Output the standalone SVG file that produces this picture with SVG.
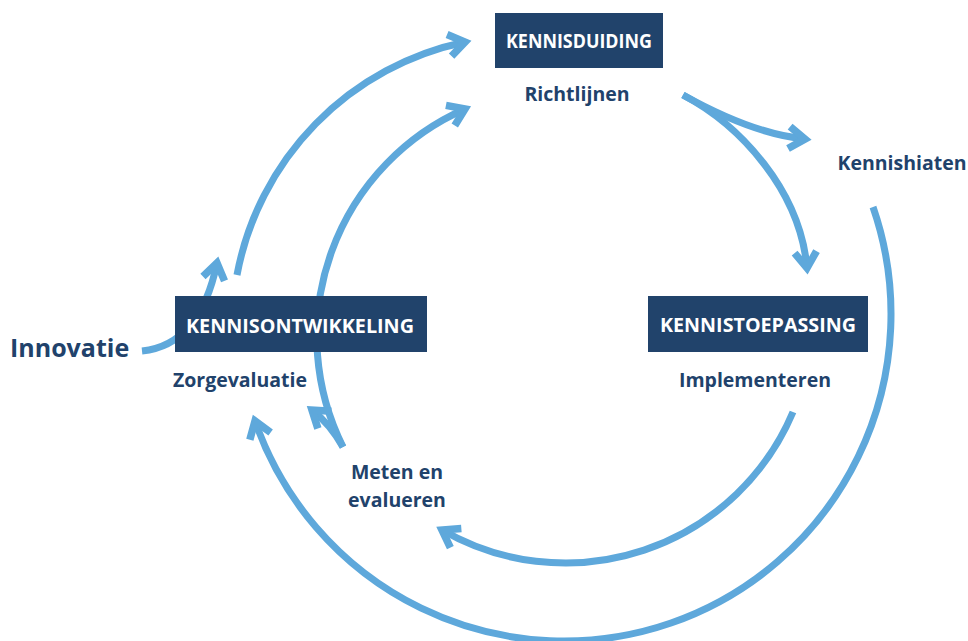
<svg xmlns="http://www.w3.org/2000/svg" width="968" height="641" viewBox="0 0 968 641">
<style>
.c{fill:none;stroke:#5ea8db;stroke-width:7;marker-end:url(#ah)}
.box{fill:#21436b}
.bt{font-family:"Open Sans","Noto Sans",sans-serif;font-weight:700;font-size:19.5px;fill:#ffffff;text-anchor:middle}
.lb{font-family:"Open Sans","Noto Sans",sans-serif;font-weight:700;font-size:19.5px;fill:#21426b;text-anchor:middle}
.big{font-family:"Open Sans","Noto Sans",sans-serif;font-weight:700;font-size:25px;fill:#21426b}
</style>
<defs>
<marker id="ah" markerUnits="userSpaceOnUse" markerWidth="50" markerHeight="50" viewBox="-25 -25 50 50" refX="0" refY="0" orient="auto" overflow="visible">
<path d="M-16,-11 L0,0 L-16,11" fill="none" stroke="#5ea8db" stroke-width="7.5" stroke-linejoin="miter" stroke-miterlimit="10"/>
</marker>
</defs>
<rect width="968" height="641" fill="#ffffff"/>
<g id="connectors">
<path class="c" d="M237,275 A293,293 0 0 1 465,42"/>
<path class="c" d="M343,447 A248,248 0 0 1 465,109"/>
<path class="c" d="M343,447 Q330,424 312,410"/>
<path class="c" d="M683,95 C740,125 800,190 807,268"/>
<path class="c" d="M683,95 Q753,134 805,139"/>
<path class="c" d="M793,412 A247,247 0 0 1 442,530"/>
<path class="c" d="M873,207 A326,326 0 1 1 255,421"/>
<path class="c" d="M142,351 Q200,345 217,263"/>
</g>
<g id="kennisduiding">
<rect class="box" x="495" y="13" width="168" height="55"/>
<text class="bt" x="579" y="48" textLength="146" lengthAdjust="spacingAndGlyphs">KENNISDUIDING</text>
</g>
<g id="richtlijnen"><text class="lb" x="577" y="101">Richtlijnen</text></g>
<g id="kennishiaten"><text class="lb" x="902" y="170">Kennishiaten</text></g>
<g id="kennistoepassing">
<rect class="box" x="648" y="296" width="220" height="56"/>
<text class="bt" x="758" y="332" textLength="196" lengthAdjust="spacingAndGlyphs">KENNISTOEPASSING</text>
</g>
<g id="implementeren"><text class="lb" x="755" y="387">Implementeren</text></g>
<g id="kennisontwikkeling">
<rect class="box" x="175" y="296" width="252" height="56"/>
<text class="bt" x="300" y="333" textLength="228" lengthAdjust="spacingAndGlyphs">KENNISONTWIKKELING</text>
</g>
<g id="zorgevaluatie"><text class="lb" x="240" y="387">Zorgevaluatie</text></g>
<g id="meten"><text class="lb" x="397" y="479">Meten en</text><text class="lb" x="397" y="507">evalueren</text></g>
<g id="innovatie"><text class="big" x="10" y="357">Innovatie</text></g>
</svg>
